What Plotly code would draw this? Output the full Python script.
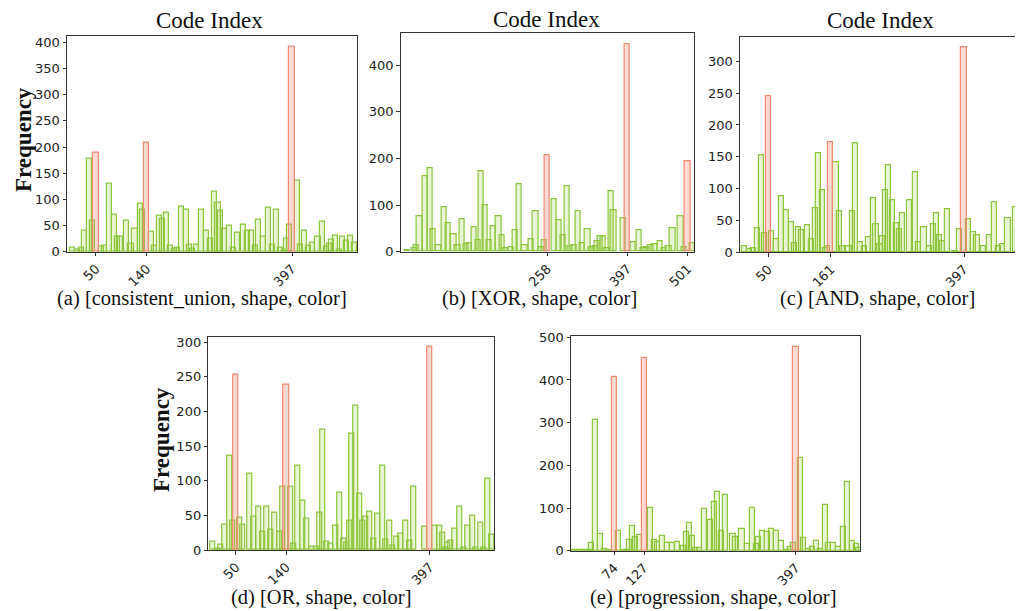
import plotly.graph_objects as go

# page body has an 8px margin, so the figure is drawn 8px in from the window corner
OFF = 8
W, H = 1023 - OFF, 611 - OFF

# ---------------- data ----------------
a_codes = [8, 17, 24, 30, 39, 44, 59, 65, 74, 82, 88, 94, 104, 112, 119, 128, 133, 148, 154, 162, 168,
           175, 182, 189, 195, 202, 210, 215, 221, 228, 236, 246, 252, 259, 266, 271, 277, 287, 294,
           301, 311, 318, 326, 332, 338, 346, 355, 362, 369, 376, 384, 388, 392, 407, 412, 419, 426,
           434, 443, 451, 458, 463, 467, 474, 481, 487, 494, 501, 508]
a_freq = [8, 3, 8, 41, 178, 60, 10, 12, 130, 71, 29, 29, 60, 16, 44, 92, 80, 38, 11, 68, 64,
          75, 12, 6, 8, 86, 81, 14, 6, 14, 80, 40, 24, 115, 94, 78, 43, 50, 8,
          37, 52, 40, 41, 11, 62, 29, 84, 13, 81, 7, 4, 25, 52, 136, 14, 41, 11,
          18, 29, 57, 10, 16, 22, 31, 4, 29, 21, 31, 18]
a_hi_codes = [50, 140, 397]
a_hi_freq = [190, 208, 392]

b_codes = [15, 27, 31, 37, 46, 55, 61, 70, 79, 87, 96, 103, 110, 117, 123, 132, 138, 144, 151, 157,
           165, 174, 180, 185, 196, 202, 209, 219, 230, 238, 248, 253, 270, 279, 285, 292, 298, 304,
           312, 319, 328, 335, 341, 344, 349, 355, 361, 369, 373, 390, 407, 417, 425, 430, 437, 444,
           453, 461, 468, 475, 489, 495, 509]
b_freq = [2, 7, 14, 77, 161, 180, 48, 13, 96, 62, 37, 14, 70, 16, 19, 52, 25, 172, 99, 24,
          55, 77, 36, 7, 9, 45, 145, 14, 27, 86, 10, 24, 113, 67, 36, 140, 11, 13,
          86, 19, 49, 9, 11, 23, 32, 33, 7, 129, 88, 72, 20, 45, 7, 9, 13, 16,
          22, 8, 11, 50, 77, 10, 18]
b_hi_codes = [258, 397, 501]
b_hi_freq = [206, 445, 195]

c_codes = [7, 16, 23, 31, 38, 44, 56, 64, 73, 82, 91, 97, 104, 109, 119, 127, 133, 139, 146, 152,
           155, 170, 177, 181, 193, 199, 205, 214, 221, 227, 236, 241, 248, 253, 258, 263, 270, 278,
           283, 288, 300, 311, 317, 326, 335, 343, 348, 354, 359, 367, 381, 389, 405, 414, 420, 432,
           442, 451, 458, 466, 475, 489, 494, 499]
c_freq = [9, 4, 6, 37, 152, 30, 33, 20, 88, 66, 47, 14, 39, 34, 42, 20, 69, 155, 98, 6,
          9, 141, 64, 9, 9, 65, 171, 16, 9, 23, 85, 44, 13, 25, 97, 137, 81, 46,
          36, 61, 82, 125, 15, 39, 9, 44, 61, 26, 17, 67, 1, 36, 52, 31, 26, 10,
          27, 79, 9, 13, 54, 71, 35, 99]
c_hi_codes = [50, 161, 397]
c_hi_freq = [245, 173, 322]

d_codes = [8, 17, 23, 30, 39, 45, 56, 63, 74, 82, 90, 98, 105, 113, 120, 128, 133, 148, 154, 161,
           170, 177, 186, 194, 200, 205, 213, 219, 228, 236, 243, 248, 253, 258, 265, 271, 277, 283,
           289, 296, 303, 312, 318, 325, 331, 337, 344, 354, 361, 368, 388, 405, 414, 420, 426, 429,
           434, 441, 451, 457, 465, 473, 479, 488, 494, 501, 508]
d_freq = [12, 2, 7, 37, 136, 43, 47, 37, 110, 48, 63, 26, 62, 30, 54, 27, 92, 91, 9, 122,
          71, 45, 5, 5, 54, 174, 12, 9, 35, 83, 17, 11, 43, 168, 209, 82, 42, 48,
          55, 17, 53, 122, 15, 42, 6, 19, 23, 42, 13, 92, 33, 35, 35, 25, 4, 10,
          13, 31, 63, 4, 35, 49, 3, 40, 4, 103, 22]
d_hi_codes = [50, 140, 397]
d_hi_freq = [253, 238, 293]

e_codes = [4, 13, 22, 30, 33, 40, 49, 56, 63, 81, 90, 97, 101, 106, 111, 118, 139, 146, 150, 160,
           168, 178, 187, 197, 202, 207, 213, 219, 226, 235, 245, 252, 258, 264, 272, 285, 290, 301,
           310, 320, 327, 331, 338, 346, 353, 363, 372, 380, 387, 392, 405, 411, 420, 427, 433, 441,
           449, 455, 463, 473, 482, 488, 498, 505, 509]
e_freq = [2, 2, 2, 2, 17, 306, 38, 5, 2, 45, 2, 2, 25, 59, 31, 37, 101, 24, 20, 34,
          19, 19, 20, 10, 44, 66, 34, 7, 6, 98, 73, 115, 138, 45, 130, 39, 33, 52,
          16, 99, 15, 33, 46, 44, 52, 46, 23, 1, 9, 18, 217, 30, 4, 8, 22, 3,
          106, 17, 19, 9, 56, 161, 23, 16, 7]
e_hi_codes = [74, 127, 397]
e_hi_freq = [408, 452, 478]

captions = ["(a) [consistent_union, shape, color]", "(b) [XOR, shape, color]",
            "(c) [AND, shape, color]", "(d) [OR, shape, color]",
            "(e) [progression, shape, color]"]

# ---------------- layout geometry (window pixels) ----------------
panels = [
    dict(codes=a_codes, freq=a_freq, hc=a_hi_codes, hf=a_hi_freq,
         px=(67, 357.3), py=(35.7, 251.7), xr=(-1.3, 512.6), yr=(0, 412.6), dt=50,
         cap=(202, 298), title=(209, 20), ylab=(23, 140), ymirror=True),
    dict(codes=b_codes, freq=b_freq, hc=b_hi_codes, hf=b_hi_freq,
         px=(400.7, 694.3), py=(33.3, 251.7), xr=(4.2, 512.5), yr=(0, 468.7), dt=100,
         cap=(539, 298), title=(546, 19.5), ylab=None, ymirror=True),
    dict(codes=c_codes, freq=c_freq, hc=c_hi_codes, hf=c_hi_freq,
         px=(740, 1023), py=(37.3, 252.3), xr=(-0.2, 501.6), yr=(0, 337.7), dt=50,
         cap=(877, 298), title=(880, 20), ylab=None, ymirror=False),
    dict(codes=d_codes, freq=d_freq, hc=d_hi_codes, hf=d_hi_freq,
         px=(208.3, 494), py=(336.7, 550), xr=(0.5, 511.5), yr=(0, 308), dt=50,
         cap=(321, 597), title=None, ylab=(161, 440), ymirror=True),
    dict(codes=e_codes, freq=e_freq, hc=e_hi_codes, hf=e_hi_freq,
         px=(571, 860), py=(336, 550.7), xr=(-3, 510.8), yr=(0, 503), dt=100,
         cap=(713, 597), title=None, ylab=None, ymirror=True),
]


def fx(v):
    return (v - OFF) / W


def fy(v):
    return 1 - (v - OFF) / H


GREEN_LINE = "#8CC63F"
GREEN_FILL = "rgba(154,205,50,0.22)"
RED_LINE = "#EE8A72"
RED_FILL = "rgba(250,128,114,0.30)"
AX = "#333333"
TICKFONT = dict(family="DejaVu Sans", size=13, color="#222222")
SERIF = "Liberation Serif, Times New Roman, serif"

fig = go.Figure()
annotations = []
layout = {}
for i, p in enumerate(panels):
    n = i + 1
    xa = "x" if n == 1 else f"x{n}"
    ya = "y" if n == 1 else f"y{n}"
    fig.add_trace(go.Bar(x=p["codes"], y=p["freq"], width=9,
                         marker=dict(color=GREEN_FILL, line=dict(color=GREEN_LINE, width=1.2)),
                         xaxis=xa, yaxis=ya, showlegend=False, hoverinfo="x+y"))
    fig.add_trace(go.Bar(x=p["hc"], y=p["hf"], width=9,
                         marker=dict(color=RED_FILL, line=dict(color=RED_LINE, width=1.2)),
                         xaxis=xa, yaxis=ya, showlegend=False, hoverinfo="x+y"))
    xkey = "xaxis" if n == 1 else f"xaxis{n}"
    ykey = "yaxis" if n == 1 else f"yaxis{n}"
    layout[xkey] = dict(domain=[max(0, fx(p["px"][0])), min(1, fx(p["px"][1]))], range=list(p["xr"]),
                        anchor=ya, tickmode="array", tickvals=p["hc"],
                        ticktext=[str(c) for c in p["hc"]], tickangle=-45,
                        ticks="outside", ticklen=3.5, tickwidth=1, tickcolor=AX,
                        showline=True, linecolor=AX, linewidth=1, mirror=True,
                        showgrid=False, zeroline=False, tickfont=TICKFONT, fixedrange=True,
                        automargin=False)
    layout[ykey] = dict(domain=[fy(p["py"][1]), fy(p["py"][0])], range=list(p["yr"]),
                        anchor=xa, dtick=p["dt"], tick0=0,
                        ticks="outside", ticklen=3.5, tickwidth=1, tickcolor=AX,
                        showline=True, linecolor=AX, linewidth=1, mirror=p["ymirror"],
                        showgrid=False, zeroline=False, tickfont=TICKFONT, fixedrange=True,
                        automargin=False)
    annotations.append(dict(text=captions[i], x=fx(p["cap"][0]), y=fy(p["cap"][1]),
                            xref="paper", yref="paper", xanchor="center", yanchor="middle",
                            showarrow=False, font=dict(family=SERIF, size=20.5, color="#111111")))
    if p["title"]:
        annotations.append(dict(text="Code Index", x=fx(p["title"][0]), y=fy(p["title"][1]),
                                xref="paper", yref="paper", xanchor="center", yanchor="middle",
                                showarrow=False, borderpad=0,
                                font=dict(family=SERIF, size=23, color="#111111")))
    if p["ylab"]:
        annotations.append(dict(text="<b>Frequency</b>", x=fx(p["ylab"][0]), y=fy(p["ylab"][1]),
                                xref="paper", yref="paper", xanchor="center", yanchor="middle",
                                textangle=-90, showarrow=False,
                                font=dict(family=SERIF, size=23, color="#111111")))

fig.update_layout(width=W, height=H, autosize=False,
                  margin=dict(l=0, r=0, t=0, b=0, pad=0, autoexpand=False),
                  paper_bgcolor="white", plot_bgcolor="white",
                  barmode="overlay", bargap=0, annotations=annotations, **layout)

fig.write_html("out.html")
